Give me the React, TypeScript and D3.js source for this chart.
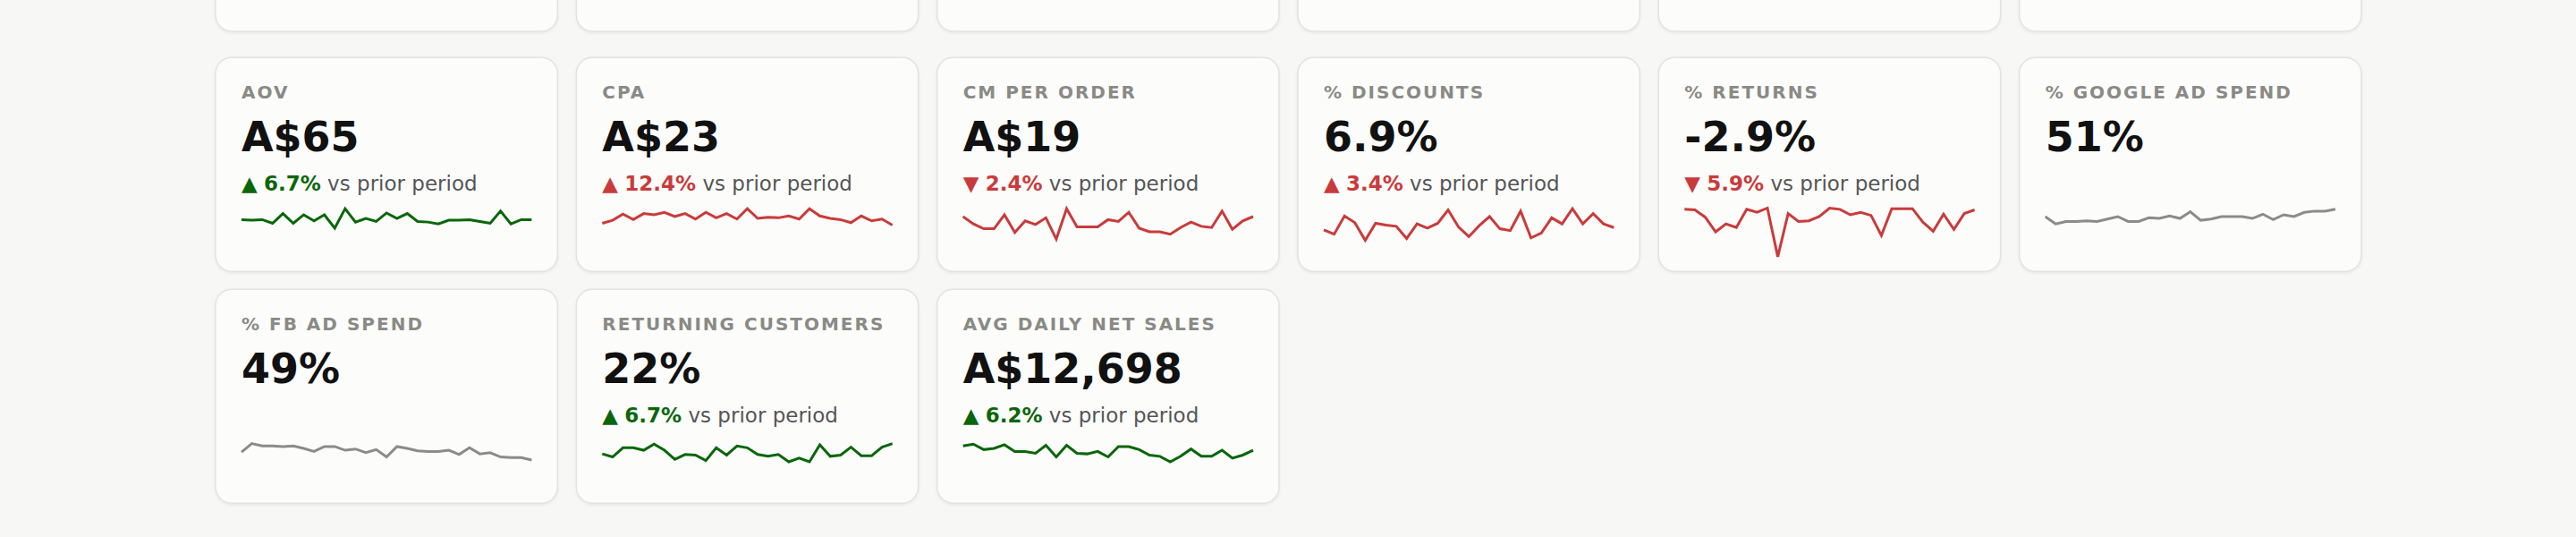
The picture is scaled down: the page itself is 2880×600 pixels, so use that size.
import * as d3 from "d3";

// KPI tiles, three rows; the first row is scrolled mostly out of view
const titles = [
  "AOV", "CPA", "CM PER ORDER", "% DISCOUNTS", "% RETURNS", "% GOOGLE AD SPEND",
  "% FB AD SPEND", "RETURNING CUSTOMERS", "AVG DAILY NET SALES",
];
const values = ["A$65", "A$23", "A$19", "6.9%", "-2.9%", "51%", "49%", "22%", "A$12,698"];
const changes: (number | null)[] = [6.7, 12.4, -2.4, 3.4, -5.9, null, null, 6.7, 6.2];
const sentiment = ["good", "bad", "bad", "bad", "bad", "neutral", "neutral", "good", "good"];

// daily trend, relative position within the sparkline band (0 = low, 100 = high)
const aov = [70, 69, 70, 64, 80, 64, 78, 68, 78, 56, 88, 66, 72, 67, 81, 72, 80, 67, 66, 63, 69, 69, 70, 67, 64, 84, 63, 70, 70];
const cpa = [64, 69, 79, 70, 80, 78, 82, 75, 80, 71, 82, 73, 80, 71, 88, 72, 74, 73, 76, 71, 88, 76, 72, 70, 65, 76, 68, 71, 61];
const cmPerOrder = [75, 63, 55, 55, 78, 49, 68, 62, 73, 38, 88, 58, 58, 58, 70, 67, 82, 56, 50, 50, 46, 57, 66, 59, 57, 84, 54, 68, 75];
const discounts = [53, 46, 76, 65, 36, 64, 61, 59, 39, 63, 56, 64, 86, 58, 42, 60, 75, 55, 52, 84, 40, 48, 73, 63, 88, 63, 80, 63, 57];
const returns = [87, 86, 74, 50, 63, 57, 87, 82, 89, 9, 80, 67, 68, 75, 89, 87, 78, 82, 77, 44, 88, 88, 88, 66, 51, 79, 54, 80, 86];
const googleSpend = [75, 63, 67, 67, 68, 67, 71, 75, 67, 67, 73, 72, 76, 72, 83, 69, 71, 75, 75, 75, 72, 79, 70, 78, 75, 82, 84, 84, 87];
const fbSpend = [69, 83, 79, 79, 78, 79, 75, 70, 78, 78, 72, 74, 68, 73, 61, 78, 75, 71, 70, 70, 72, 65, 76, 66, 68, 61, 60, 60, 56];
const returningCustomers = [66, 61, 76, 76, 72, 82, 72, 57, 65, 64, 55, 76, 64, 79, 76, 65, 62, 65, 53, 59, 53, 81, 62, 64, 77, 63, 63, 77, 83];
const netSales = [79, 82, 73, 75, 81, 70, 70, 67, 80, 61, 80, 67, 66, 70, 61, 78, 78, 73, 64, 62, 53, 62, 74, 62, 62, 72, 59, 64, 72];

const series = [aov, cpa, cmPerOrder, discounts, returns, googleSpend, fbSpend, returningCustomers, netSales];

const W = 2880;
const H = 600;
const COLS = 6;
const CARD_H = 239;
const PAD = 29;
const FONT = "'DejaVu Sans', Verdana, sans-serif";

const colors: Record<string, string> = {
  good: "#0a660a",
  bad: "#c93b3b",
  neutral: "#8b8b87",
};

// first row sits above the viewport, then a larger gap before the detail rows
const rowTops = [-204, 64.3, 323.3];

const xCol = d3.scaleBand<number>()
  .domain(d3.range(COLS))
  .range([241, 2640])
  .paddingInner(0.052);

const cardW = xCol.bandwidth();

const xSpark = d3.scaleLinear().domain([0, aov.length - 1]).range([PAD, cardW - PAD]);
const ySpark = d3.scaleLinear().domain([0, 100]).range([228.7, 160.7]);
const line = d3.line<number>().x((_, i) => xSpark(i)).y(d => ySpark(d));

function Card(props: { i: number }) {
  const { i } = props;
  const change = changes[i];
  const color = colors[sentiment[i]];
  return (
    <g>
      <text x={PAD} y={46} fontFamily={FONT} fontSize={20} fontWeight={700}
        letterSpacing={2} fill="#8a8a85">{titles[i]}</text>
      <text x={PAD} y={104.7} fontFamily={FONT} fontSize={46} fontWeight={700}
        fill="#111">{values[i]}</text>
      {change !== null && (
        <text x={PAD} y={148.5} fontFamily={FONT} fontSize={23}>
          <tspan fill={color}>{change >= 0 ? "▲" : "▼"} </tspan>
          <tspan fill={color} fontWeight={700}>{Math.abs(change).toFixed(1)}%</tspan>
          <tspan fill="#555"> vs prior period</tspan>
        </text>
      )}
      <path d={line(series[i]) ?? ""} fill="none" stroke={color}
        strokeWidth={3} strokeLinejoin="miter" />
    </g>
  );
}

function Tile(props: { x: number; y: number; children?: any }) {
  return (
    <g transform={`translate(${props.x},${props.y})`}>
      <rect width={cardW} height={CARD_H} rx={18} fill="#fcfcfb"
        stroke="#e2e2df" strokeWidth={1.5} filter="url(#shadow)" />
      {props.children}
    </g>
  );
}

export default function App() {
  return (
    <svg width={W} height={H} style={{ position: "absolute", left: 0, top: 0, background: "#f7f7f5" }}>
      <defs>
        <filter id="shadow" x="-5%" y="-5%" width="110%" height="115%">
          <feDropShadow dx={0} dy={1.5} stdDeviation={1.5} floodColor="#000" floodOpacity={0.06} />
        </filter>
      </defs>
      <rect width={W} height={H} fill="#f7f7f5" />
      {d3.range(COLS).map(c => (
        <Tile key={`top-${c}`} x={xCol(c)!} y={rowTops[0]} />
      ))}
      {titles.map((_, i) => (
        <Tile key={titles[i]} x={xCol(i % COLS)!} y={rowTops[1 + Math.floor(i / COLS)]}>
          <Card i={i} />
        </Tile>
      ))}
    </svg>
  );
}
